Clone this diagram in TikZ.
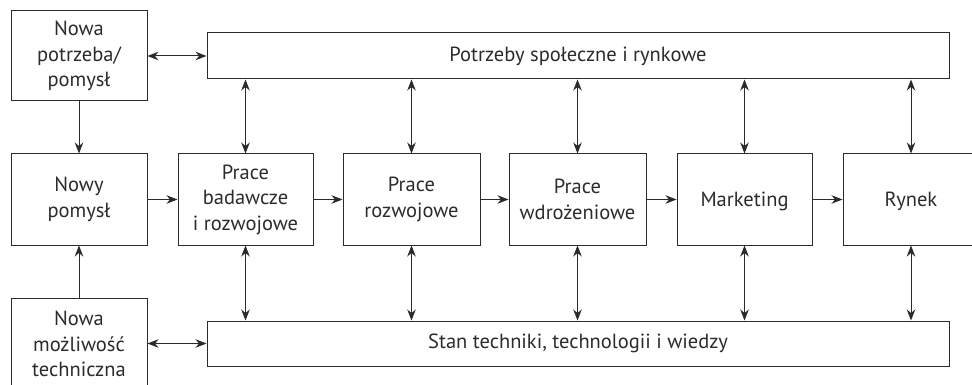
\documentclass[tikz,border=0pt]{standalone}
\usepackage{fontspec}
\setmainfont{PT Sans}
\usetikzlibrary{arrows.meta}
\definecolor{ink}{HTML}{2B2B2B}
\tikzset{
  box/.style={draw=ink, line width=1pt, align=center, text=ink, inner sep=0pt,
    font=\fontsize{20.5}{25.5}\selectfont},
  arr/.style={draw=ink, line width=1pt, -{Stealth[length=11pt,width=8.5pt,inset=3.5pt]}},
  darr/.style={draw=ink, line width=1pt, {Stealth[length=11pt,width=8.5pt,inset=3.5pt]}-{Stealth[length=11pt,width=8.5pt,inset=3.5pt]}}
}
\begin{document}
\begin{tikzpicture}[x=1pt,y=-1pt]
\useasboundingbox (0,0) rectangle (972,385);
\clip (0,0) rectangle (972,385);
\node[box, minimum width=136pt, minimum height=90pt] (np) at (79,56) {Nowa\\potrzeba/\\pomysł};
\node[box, minimum width=742pt, minimum height=46pt] (top) at (578,56) {Potrzeby społeczne i rynkowe};
\node[box, minimum width=136pt, minimum height=91pt] (nowy) at (79,199.5) {Nowy\\pomysł};
\node[box, minimum width=135pt, minimum height=91pt] (pb) at (245.5,199.5) {Prace\\badawcze\\i rozwojowe};
\node[box, minimum width=137pt, minimum height=91pt] (pr) at (411.5,199.5) {Prace\\rozwojowe};
\node[box, minimum width=137pt, minimum height=91pt] (pw) at (577.5,199.5) {Prace\\wdrożeniowe};
\node[box, minimum width=135pt, minimum height=91pt, text depth=0pt] (mk) at (744.5,199.5) {Marketing};
\node[box, minimum width=136pt, minimum height=91pt, text depth=0pt] (ry) at (911,199.5) {Rynek};
\node[box, minimum width=136pt, minimum height=92pt] (nm) at (79,344) {Nowa\\możliwość\\techniczna};
\node[box, minimum width=742pt, minimum height=45pt] (bot) at (578,343.5) {Stan techniki, technologii i wiedzy};
\draw[arr] (np) -- (nowy);
\draw[arr] (nm) -- (nowy);
\draw[darr] (np.east) -- (top.west);
\draw[darr] (nm.east |- bot.west) -- (bot.west);
\draw[arr] (nowy) -- (pb);
\draw[arr] (pb) -- (pr);
\draw[arr] (pr) -- (pw);
\draw[arr] (pw) -- (mk);
\draw[arr] (mk) -- (ry);
\foreach \n in {pb,pr,pw,mk,ry}{
  \draw[darr] (top.south -| \n.north) -- (\n.north);
  \draw[darr] (\n.south) -- (bot.north -| \n.south);
}
\end{tikzpicture}
\end{document}
